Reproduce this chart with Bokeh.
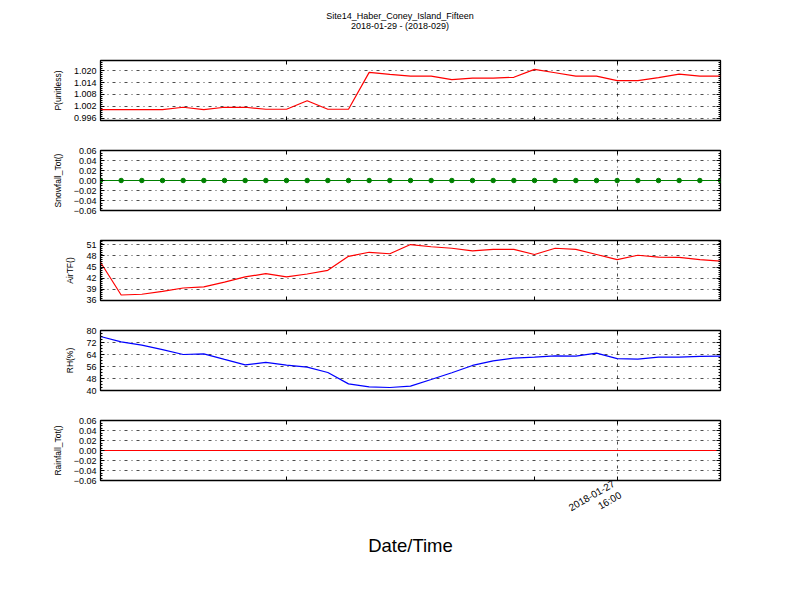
import numpy as np
from bokeh.plotting import figure
from bokeh.layouts import column
from bokeh.models import FixedTicker, LinearAxis, Range1d, CustomJSTickFormatter, Div
from bokeh.embed import file_html
from bokeh.resources import INLINE

# ---------------- data ----------------
title_lines = ["Site14_Haber_Coney_Island_Fifteen", "2018-01-29 - (2018-029)"]
x_label = "Date/Time"
x_index = list(range(31))
x_tick_pos = [9, 21, 25]
x_tick_labels = ["", "", "2018-01-27\n16:00"]
x_grid_pos = [25]

p_vals = [1.0003, 1.0003, 1.0003, 1.0003, 1.0015, 1.0003, 1.0015, 1.0015, 1.0005, 1.0005,
          1.0048, 1.0005, 1.0005, 1.0192, 1.0182, 1.0173, 1.0173, 1.0155, 1.0163, 1.0163,
          1.0167, 1.0207, 1.0190, 1.0173, 1.0173, 1.0150, 1.0150, 1.0165, 1.0183, 1.0173,
          1.0173]
snow_vals = [0.0, 0.0, 0.0, 0.0, 0.0, 0.0, 0.0, 0.0, 0.0, 0.0,
             0.0, 0.0, 0.0, 0.0, 0.0, 0.0, 0.0, 0.0, 0.0, 0.0,
             0.0, 0.0, 0.0, 0.0, 0.0, 0.0, 0.0, 0.0, 0.0, 0.0,
             0.0]
airt_vals = [46.3, 37.4, 37.6, 38.4, 39.3, 39.6, 40.9, 42.3, 43.2, 42.3,
             43.1, 44.1, 47.9, 49.0, 48.6, 51.1, 50.5, 50.1, 49.4, 49.8,
             49.8, 48.4, 50.1, 49.8, 48.4, 47.0, 48.2, 47.7, 47.6, 47.0,
             46.6]
rh_vals = [76.0, 72.4, 70.2, 67.3, 64.0, 64.4, 60.7, 57.1, 58.7, 56.9,
           55.6, 52.0, 44.4, 42.4, 42.0, 42.9, 47.3, 51.8, 56.7, 59.8,
           61.6, 62.2, 63.1, 62.9, 64.9, 61.3, 60.9, 62.2, 62.2, 62.7,
           62.9]
rain_vals = [0.0, 0.0, 0.0, 0.0, 0.0, 0.0, 0.0, 0.0, 0.0, 0.0,
             0.0, 0.0, 0.0, 0.0, 0.0, 0.0, 0.0, 0.0, 0.0, 0.0,
             0.0, 0.0, 0.0, 0.0, 0.0, 0.0, 0.0, 0.0, 0.0, 0.0,
             0.0]

p_ticks = [0.996, 1.002, 1.008, 1.014, 1.020]
p_tick_labels = ["0.996", "1.002", "1.008", "1.014", "1.020"]
p_range = (0.9948, 1.0252)
p_minor = 0.001

zero_ticks = [-0.06, -0.04, -0.02, 0.0, 0.02, 0.04, 0.06]
zero_tick_labels = ["\u22120.06", "\u22120.04", "\u22120.02", "0.00", "0.02", "0.04", "0.06"]
zero_range = (-0.06, 0.06)
zero_minor = 0.005

airt_ticks = [36, 39, 42, 45, 48, 51]
airt_tick_labels = ["36", "39", "42", "45", "48", "51"]
airt_range = (35.9, 52.2)
airt_minor = 0.5

rh_ticks = [40, 48, 56, 64, 72, 80]
rh_tick_labels = ["40", "48", "56", "64", "72", "80"]
rh_range = (40, 80)
rh_minor = 2

# ---------------- style ----------------
FONT = "Liberation Sans"
FRAME_W, FRAME_H = 620, 60
LEFT, RIGHT = 100, 40
GRID_DASH = "3 4 1 4"
BLANK = CustomJSTickFormatter(code="return ''")


def style_axis(ax, show_labels):
    ax.axis_line_color = None
    ax.major_tick_in = 4
    ax.major_tick_out = 0
    ax.minor_tick_in = 2
    ax.minor_tick_out = 0
    ax.major_tick_line_color = "black"
    ax.minor_tick_line_color = "black"
    ax.major_label_text_font = FONT
    ax.major_label_text_color = "black"
    ax.major_label_text_font_size = "9px"
    if show_labels:
        ax.major_label_standoff = 4
    else:
        ax.formatter = BLANK
        ax.major_label_standoff = 0


def make_panel(ylabel, ys, color, yr, ticks, tick_labels, minor_step,
               top, bottom, last=False, markers=False):
    p = figure(frame_width=FRAME_W, frame_height=FRAME_H,
               x_range=Range1d(x_index[0], x_index[-1]), y_range=Range1d(*yr),
               output_backend="svg", toolbar_location=None,
               min_border_left=LEFT, min_border_right=RIGHT,
               min_border_top=top, min_border_bottom=bottom)
    p.background_fill_color = "white"
    p.border_fill_color = "white"
    p.outline_line_color = "black"
    p.outline_line_width = 1.3

    minor = list(np.arange(yr[0] - (yr[0] % minor_step), yr[1] + minor_step, minor_step))
    yticker = FixedTicker(ticks=ticks, minor_ticks=minor)
    xticker = FixedTicker(ticks=x_tick_pos, minor_ticks=[])

    p.yaxis.ticker = yticker
    p.yaxis.major_label_overrides = {t: l for t, l in zip(ticks, tick_labels)}
    style_axis(p.yaxis[0], True)
    p.yaxis.axis_label = ylabel
    p.yaxis.axis_label_text_font = FONT
    p.yaxis.axis_label_text_font_size = "8.5px"
    p.yaxis.axis_label_text_font_style = "normal"
    p.yaxis.axis_label_text_color = "black"
    p.yaxis.axis_label_standoff = 8

    p.xaxis.ticker = xticker
    style_axis(p.xaxis[0], last)
    if last:
        p.xaxis.major_label_overrides = {t: l for t, l in zip(x_tick_pos, x_tick_labels)}
        p.xaxis.major_label_orientation = np.pi / 6
        p.xaxis.major_label_text_font_size = "10px"
        p.xaxis.major_label_standoff = 8
        p.xaxis.axis_label = x_label
        p.xaxis.axis_label_text_font = FONT
        p.xaxis.axis_label_text_font_size = "18.5px"
        p.xaxis.axis_label_text_font_style = "normal"
        p.xaxis.axis_label_text_color = "black"
        p.xaxis.axis_label_standoff = -3

    ra = LinearAxis(ticker=yticker)
    style_axis(ra, False)
    p.add_layout(ra, "right")
    ta = LinearAxis(ticker=xticker)
    style_axis(ta, False)
    p.add_layout(ta, "above")

    p.ygrid.ticker = FixedTicker(ticks=ticks)
    p.xgrid.ticker = FixedTicker(ticks=x_grid_pos)
    for g in (p.xgrid[0], p.ygrid[0]):
        g.grid_line_color = "black"
        g.grid_line_width = 0.7
        g.grid_line_dash = GRID_DASH

    p.line(x_index, ys, line_color=color, line_width=1.2)
    if markers:
        p.scatter(x_index, ys, size=4.5, fill_color=color, line_color=color)
    return p


TITLE_H = 45
title = Div(text="<br>".join(title_lines), width=800, height=TITLE_H, margin=(0, 0, 0, 0),
            styles={"font-family": FONT, "font-size": "9px", "line-height": "10px",
                    "text-align": "center", "color": "black", "padding-top": "11px",
                    "width": "800px", "box-sizing": "border-box"})

p1 = make_panel("P(unitless)", p_vals, "#ff0000", p_range, p_ticks, p_tick_labels, p_minor, 60 - TITLE_H, 15)
p2 = make_panel("Snowfall_Tot()", snow_vals, "#008000", zero_range, zero_ticks, zero_tick_labels, zero_minor, 15, 15, markers=True)
p3 = make_panel("AirTF()", airt_vals, "#ff0000", airt_range, airt_ticks, airt_tick_labels, airt_minor, 15, 15)
p4 = make_panel("RH(%)", rh_vals, "#0000ff", rh_range, rh_ticks, rh_tick_labels, rh_minor, 15, 15)
p5 = make_panel("Rainfall_Tot()", rain_vals, "#ff0000", zero_range, zero_ticks, zero_tick_labels, zero_minor, 15, 100, last=True)

layout = column(title, p1, p2, p3, p4, p5, spacing=0)
open("out.html", "w").write(file_html(layout, INLINE))
